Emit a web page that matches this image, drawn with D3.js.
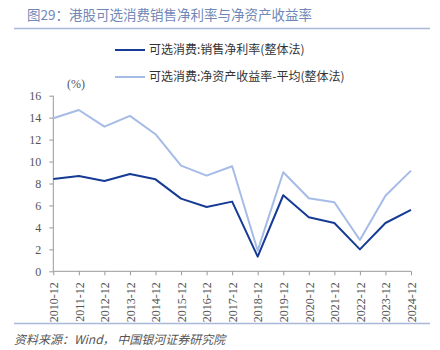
<!DOCTYPE html>
<html><head><meta charset="utf-8">
<script src="https://cdn.jsdelivr.net/npm/d3@7"></script>
<style>body{margin:0;background:#fff}</style>
</head><body><svg id="c" width="440" height="350"></svg>
<script>
const categories = ["2010-12","2011-12","2012-12","2013-12","2014-12","2015-12","2016-12","2017-12","2018-12","2019-12","2020-12","2021-12","2022-12","2023-12","2024-12"];
const netMargin = [8.41,8.69,8.23,8.87,8.38,6.62,5.86,6.35,1.33,6.93,4.92,4.40,2.00,4.40,5.59];
const roe = [13.95,14.70,13.18,14.16,12.49,9.63,8.72,9.57,1.88,9.02,6.65,6.29,2.85,6.89,9.17];
const seriesNames = ["可选消费:销售净利率(整体法)","可选消费:净资产收益率-平均(整体法)"];
const yTicks = [0,2,4,6,8,10,12,14,16];
const title = "图29：港股可选消费销售净利率与净资产收益率";
const source = "资料来源：Wind， 中国银河证券研究院";

const svg = d3.select("#c");
const cjk = "'Noto Sans CJK SC', sans-serif";
const serif = "'Liberation Serif', 'DejaVu Serif', serif";

svg.append("text").attr("x",27).attr("y",20).attr("font-family",cjk).attr("font-size",13.5)
  .attr("fill","#7088b8").text(title);
svg.append("line").attr("x1",14).attr("x2",430).attr("y1",28.5).attr("y2",28.5)
  .attr("stroke","#a9b8d6").attr("stroke-width",1.5);

const x = d3.scalePoint().domain(categories).range([53.3,411]);
const y = d3.scaleLinear().domain([0,16]).range([271.3,95.7]);

const yAxis = svg.append("g").attr("transform","translate(53.3,0)")
  .call(d3.axisLeft(y).tickValues(yTicks).tickSize(4).tickPadding(8));
yAxis.selectAll("path,line").attr("stroke","#999");
yAxis.select(".domain").attr("d","M0,95.7V271.3");
yAxis.selectAll("text").attr("font-family",serif).attr("font-size",12).attr("fill","#555");

const xAxis = svg.append("g").attr("transform","translate(0,271.3)")
  .call(d3.axisBottom(x).tickSize(4).tickPadding(4));
xAxis.selectAll("path,line").attr("stroke","#999");
xAxis.select(".domain").attr("d","M53.3,0H411");
xAxis.selectAll("text").attr("font-family",serif).attr("font-size",12).attr("fill","#555")
  .attr("transform","rotate(-90)").attr("text-anchor","end").attr("dx","-6").attr("dy","0.35em")
  .attr("x",null).attr("y",null);
xAxis.selectAll(".tick text").attr("x",-5).attr("y",0);

svg.append("text").attr("x",67).attr("y",88).attr("font-family",serif).attr("font-size",12)
  .attr("fill","#555").text("(%)");

const colors = ["#163b94","#a6bbe6"];
const line = d3.line().x((d,i)=>x(categories[i])).y(d=>y(d));
[roe, netMargin].forEach((s,k)=>{
  const ci = k===0?1:0;
  svg.append("path").datum(s).attr("d",line).attr("fill","none")
    .attr("stroke",colors[ci]).attr("stroke-width",2).attr("stroke-linejoin","round");
});

const leg = [[50,0],[77,1]];
leg.forEach(([ly,i])=>{
  svg.append("line").attr("x1",115).attr("x2",145).attr("y1",ly).attr("y2",ly)
    .attr("stroke",colors[i]).attr("stroke-width",2);
  svg.append("text").attr("x",149).attr("y",ly+4).attr("font-family",cjk).attr("font-size",12)
    .attr("fill","#333").text(seriesNames[i]);
});

svg.append("line").attr("x1",14).attr("x2",430).attr("y1",323.5).attr("y2",323.5)
  .attr("stroke","#a9b8d6").attr("stroke-width",1.5);
svg.append("text").attr("x",14).attr("y",344).attr("font-family",cjk).attr("font-size",12)
  .attr("font-style","italic").attr("fill","#555").text(source);
</script></body></html>
